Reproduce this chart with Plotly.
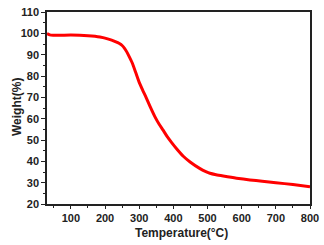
import plotly.graph_objects as go

temperature = [30, 38, 48, 70, 100, 150, 185, 210, 230, 242, 250, 257, 264, 271, 280, 290, 300, 310, 320, 332, 345, 358, 370, 382, 395, 410, 429, 450, 478, 495, 507, 525, 546, 585, 624, 660, 700, 750, 800]
weight = [99.9, 99.3, 99.1, 99.1, 99.2, 98.9, 98.3, 97.3, 96.1, 95.2, 94.3, 93.0, 91.2, 89.0, 86.0, 81.5, 77.0, 73.4, 70.0, 65.6, 61.2, 57.5, 54.6, 51.6, 48.8, 45.8, 42.4, 39.6, 36.6, 35.2, 34.4, 33.7, 33.1, 32.1, 31.3, 30.7, 30.0, 29.1, 28.1]

x_ticks = [100, 200, 300, 400, 500, 600, 700, 800]
y_ticks = [20, 30, 40, 50, 60, 70, 80, 90, 100, 110]
x_title = "Temperature(°C)"
y_title = "Weight(%)"

fig = go.Figure()
fig.add_trace(go.Scatter(x=temperature, y=weight, mode="lines",
                         line=dict(color="#ff0000", width=3, shape="spline", smoothing=0.6),
                         showlegend=False, hoverinfo="skip"))

axis_font = dict(family="Liberation Sans, Arial", size=11, color="#222222")
title_font = dict(family="Liberation Sans, Arial", size=12, color="#222222")
fig.update_layout(
    width=324, height=245,
    margin=dict(l=47, r=14, t=12, b=41, autoexpand=False),
    paper_bgcolor="white", plot_bgcolor="white",
    font=dict(family="Liberation Sans, Arial", color="#222222"),
    annotations=[
        dict(text=f"<b>{x_title}</b>", xref="paper", yref="paper", x=0.5, y=0,
             xanchor="center", yanchor="middle", xshift=3, yshift=-28.5,
             showarrow=False, font=title_font),
        dict(text=f"<b>{y_title}</b>", xref="paper", yref="paper", x=0, y=0.5,
             xanchor="center", yanchor="middle", xshift=-30, yshift=1, textangle=-90,
             showarrow=False, font=title_font),
    ],
)
fig.update_xaxes(
    range=[30, 800], tickvals=x_ticks, ticktext=[f"<b>{v}</b>" for v in x_ticks],
    showgrid=False, zeroline=False, automargin=False,
    showline=True, linecolor="#222222", linewidth=1.5, mirror=True,
    ticks="outside", ticklen=3.5, tickwidth=1.2, tickcolor="#222222",
    minor=dict(ticks="outside", ticklen=2.5, dtick=50, tick0=0, tickcolor="#222222", showgrid=False),
    tickfont=axis_font,
)
fig.update_yaxes(
    range=[20, 110], tickvals=y_ticks, ticktext=[f"<b>{v}</b>" for v in y_ticks],
    showgrid=False, zeroline=False, automargin=False,
    showline=True, linecolor="#222222", linewidth=1.5, mirror=True,
    ticks="outside", ticklen=4, tickwidth=1.2, tickcolor="#222222",
    minor=dict(ticks="outside", ticklen=2.5, dtick=5, tick0=0, tickcolor="#222222", showgrid=False),
    tickfont=axis_font,
)

fig.write_html("out.html", config={"displayModeBar": False},
               post_script="document.body.style.margin='0';document.body.style.overflow='hidden';")
